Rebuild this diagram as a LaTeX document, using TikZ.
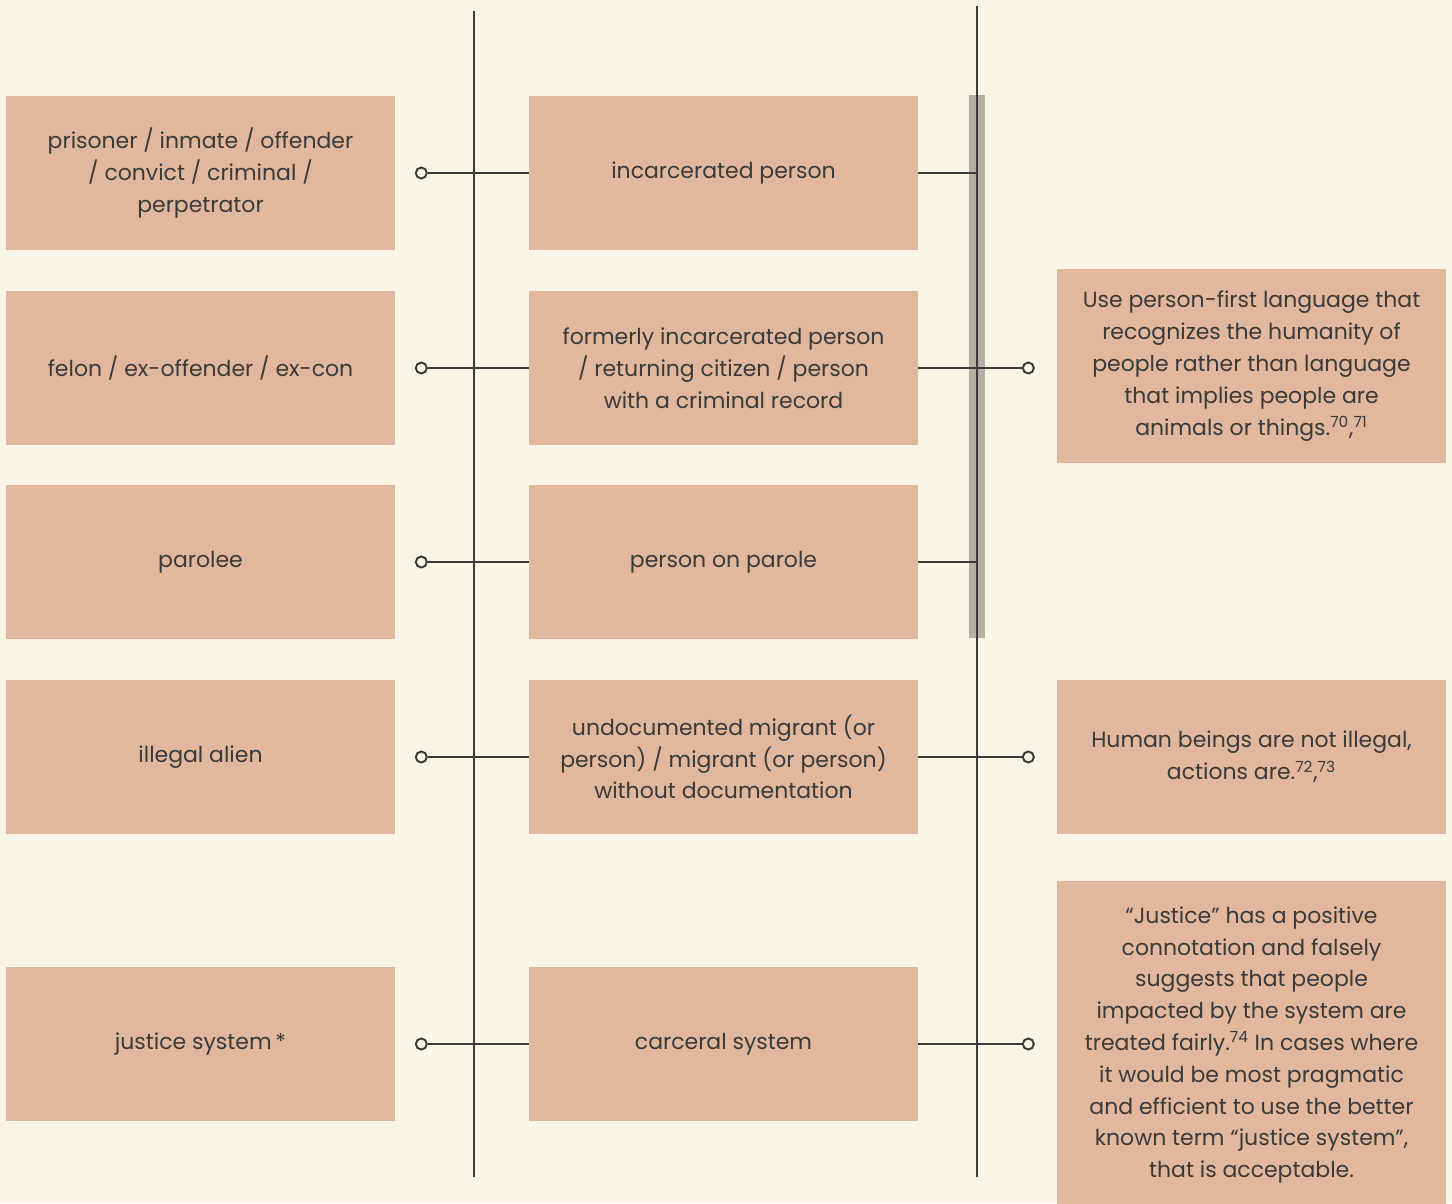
\documentclass[tikz,border=0pt]{standalone}
\usepackage{fontspec}
\setmainfont{Poppins}
\usetikzlibrary{positioning}
\definecolor{paper}{HTML}{F8F4E6}
\definecolor{tan}{HTML}{E1B89E}
\definecolor{bar}{HTML}{B3AFA3}
\definecolor{ink}{HTML}{3A3A3A}
\newcommand\Txt{\fontsize{12.5pt}{18.1pt}\selectfont}

\begin{document}
\begin{tikzpicture}[x=0.02cm,y=-0.02cm,
  term/.style={fill=tan,text=ink,minimum width=7.78cm,minimum height=3.08cm,
    align=center,inner sep=0pt,font=\Txt},
  dot/.style={circle,draw=ink,line width=1.1pt,fill=paper,minimum size=0.22cm,inner sep=0pt},
  link/.style={draw=ink,line width=0.7pt},
  spine/.style={draw=ink,line width=0.8pt}]
\useasboundingbox[fill=paper] (0,0) rectangle (1452,1203);
\clip (0,0) rectangle (1452,1203);

\coordinate (spineLtop) at (474,11);
\coordinate (spineLbot) at (474,1177);
\coordinate (spineRtop) at (977,6);
\coordinate (spineRbot) at (977,1177);

% old terms
\node[term] (oldA) at (200.5,173) {prisoner / inmate / offender\\/ convict / criminal /\\perpetrator};
\node[term] (oldB) at (200.5,368) {felon / ex-offender / ex-con};
\node[term] (oldC) at (200.5,562) {parolee};
\node[term] (oldD) at (200.5,757) {illegal alien};
\node[term] (oldE) at (200.5,1044) {justice system\,*};

% preferred terms
\node[term] (newA) at (723.5,173) {incarcerated person};
\node[term] (newB) at (723.5,368) {formerly incarcerated person\\/ returning citizen / person\\with a criminal record};
\node[term] (newC) at (723.5,562) {person on parole};
\node[term] (newD) at (723.5,757) {undocumented migrant (or\\person) / migrant (or person)\\without documentation};
\node[term] (newE) at (723.5,1044) {carceral system};

% notes
\node[term,minimum height=3.88cm] (noteB) at (1251.5,366)
  {Use person-first language that\\recognizes the humanity of\\people rather than language\\that implies people are\\animals or things.\textsuperscript{70},\textsuperscript{71}};
\node[term] (noteD) at (1251.5,757)
  {Human beings are not illegal,\\actions are.\textsuperscript{72},\textsuperscript{73}};
\node[term,minimum height=6.56cm] (noteE) at (1251.5,1045)
  {“Justice” has a positive\\connotation and falsely\\suggests that people\\impacted by the system are\\treated fairly.\textsuperscript{74} In cases where\\it would be most pragmatic\\and efficient to use the better\\known term “justice system”,\\that is acceptable.};

\fill[bar] (969,95) rectangle (985,638);
\draw[spine] (spineLtop) -- (spineLbot);
\draw[spine] (spineRtop) -- (spineRbot);

% left dots
\foreach \r in {A,B,C,D,E}{
  \path (old\r.east) ++(26,0) node[dot] (dot\r) {};
  \draw[link] (dot\r) -- (new\r.west);
}

% right side
\draw[link] (newA.east) -- (newA.east -| spineRtop);
\draw[link] (newC.east) -- (newC.east -| spineRtop);
\foreach \r in {B,D,E}{
  \path (new\r.east) ++(110,0) node[dot] (end\r) {};
  \draw[link] (new\r.east) -- (end\r);
}
\end{tikzpicture}
\end{document}
